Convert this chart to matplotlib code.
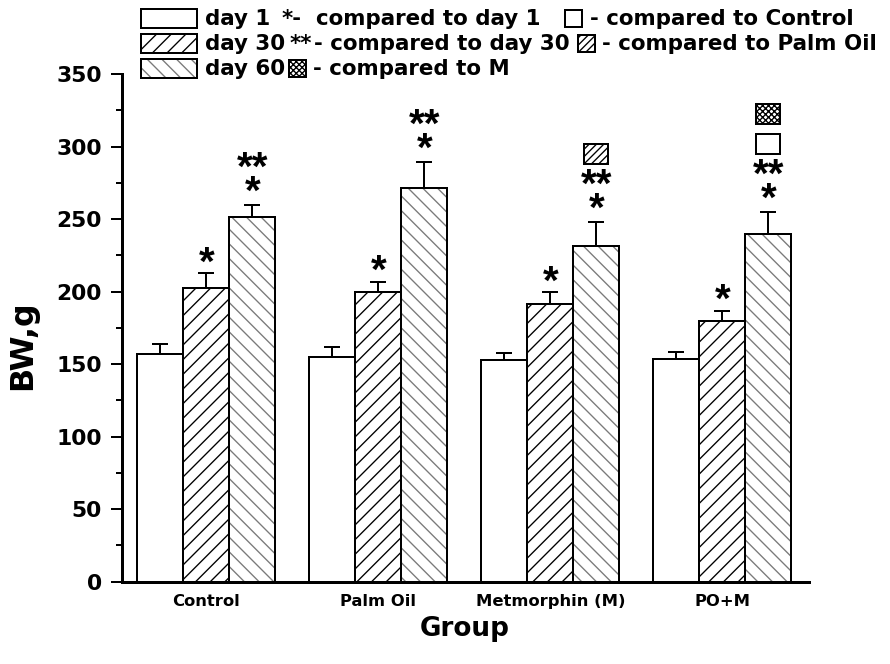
import matplotlib
matplotlib.use('Agg')
import matplotlib.pyplot as plt
from matplotlib.patches import Rectangle
from matplotlib.ticker import MultipleLocator
import numpy as np

# ---------------- data ----------------
groups = ['Control', 'Palm Oil', 'Metmorphin (M)', 'PO+M']
day1 = [157, 155, 152.5, 153.5]
day1_err = [7, 6.5, 5, 5]
day30 = [202.5, 199.5, 191.5, 179.5]
day30_err = [10, 7, 8, 7]
day60 = [251.5, 271.5, 231.5, 239.5]
day60_err = [8, 18, 16.5, 15.5]
series_labels = ['day 1', 'day 30', 'day 60']
day30_marks = ['*', '*', '*', '*']
day60_marks = [['*', '**'], ['*', '**'], ['*', '**'], ['*', '**']]
day60_boxes = [[], [], ['palm'], ['control', 'm']]
yticks = [0, 50, 100, 150, 200, 250, 300, 350]

DPI = 88
FONT = 'DejaVu Sans'
STAR_FONT = ['Liberation Sans', 'DejaVu Sans']
plt.rcParams['hatch.linewidth'] = 1.1
px = 72.0 / DPI  # points per pixel

fig = plt.figure(figsize=(890 / DPI, 664 / DPI), dpi=DPI)
ax = fig.add_axes([122 / 890, 1 - 581.7 / 664, 687.3 / 890, 507.7 / 664])

x = np.arange(len(groups))
w = 46 / 172.0
lw = 2 * px
GRAY = '#7a7a7a'

box_hatch = {'palm': '////', 'm': 'xxxxx', 'control': None}

# day 1
ax.bar(x - w, day1, w, color='white', edgecolor='black', linewidth=lw, zorder=2)
# day 30
ax.bar(x, day30, w, color='white', edgecolor='black', hatch='//', linewidth=lw, zorder=2)
# day 60 : gray hatch, black outline
ax.bar(x + w, day60, w, color='white', edgecolor=GRAY, hatch='\\\\', linewidth=0, zorder=2)
ax.bar(x + w, day60, w, fill=False, edgecolor='black', linewidth=lw, zorder=3)

for xs, vals, errs in [(x - w, day1, day1_err), (x, day30, day30_err), (x + w, day60, day60_err)]:
    ax.errorbar(xs, vals, yerr=[np.zeros(len(vals)), errs], fmt='none', ecolor='black',
                elinewidth=lw, capsize=8.3 * px, capthick=lw, zorder=1)

# significance stars and marker boxes
sq_w = 24 / 172.0
sq_h = 20 / 1.4505
for i in range(len(groups)):
    top30 = day30[i] + day30_err[i]
    ax.annotate(day30_marks[i], (x[i], top30), xytext=(0, -1 * px), textcoords='offset points',
                ha='center', va='baseline', fontsize=33, fontweight='bold', family=STAR_FONT)
    top60 = day60[i] + day60_err[i]
    stack = '\n'.join(reversed(day60_marks[i]))
    ax.annotate(stack, (x[i] + w, top60), xytext=(0, 1 * px),
                textcoords='offset points', ha='center', va='baseline', multialignment='center',
                linespacing=0.534, fontsize=33, fontweight='bold', family=STAR_FONT)
    for k, b in enumerate(day60_boxes[i]):
        cy = top60 + (67.5 + 30 * k) / 1.4505
        r = Rectangle((x[i] + w - sq_w / 2, cy - sq_h / 2), sq_w, sq_h, facecolor='white',
                      edgecolor='black', hatch=box_hatch[b], linewidth=lw, zorder=4, clip_on=False)
        ax.add_patch(r)

ax.set_xlim(-0.49, 3.506)
ax.set_ylim(0, 350)
ax.set_yticks(yticks)
ax.yaxis.set_minor_locator(MultipleLocator(25))
ax.set_xticks(x)
ax.set_xticklabels(groups, fontsize=13.4, fontweight='bold', family=FONT)
for lab in ax.get_yticklabels():
    lab.set_fontsize(17.8)
    lab.set_fontweight('bold')
    lab.set_family(FONT)
ax.tick_params(axis='x', length=0, pad=10)
ax.tick_params(axis='y', which='major', length=11 * px, width=2 * px, pad=9 * px, direction='out')
ax.tick_params(axis='y', which='minor', length=6 * px, width=2 * px, direction='out')
for s in ['top', 'right']:
    ax.spines[s].set_visible(False)
for s in ['left', 'bottom']:
    ax.spines[s].set_linewidth(3 * px)
    ax.spines[s].set_zorder(5)

fig.text(23 / 890, 1 - 345 / 664, 'BW,g', rotation=90, ha='center', va='center',
         fontsize=26, fontweight='bold', family=FONT)
fig.text(465 / 890, 1 - 629 / 664, 'Group', ha='center', va='center',
         fontsize=21.5, fontweight='bold', family=FONT)

# ---------------- legend (overlay in pixel coords) ----------------
lax = fig.add_axes([0, 0, 1, 1], zorder=10)
lax.set_xlim(0, 890)
lax.set_ylim(664, 0)
lax.axis('off')
lax.patch.set_alpha(0)

LFS = 17.5
rows = [18, 43, 68]
handles = [dict(hatch=None, ec='black'), dict(hatch='//', ec='black'), dict(hatch='\\\\', ec=GRAY)]
for r, hd, lab in zip(rows, handles, series_labels):
    if hd['hatch']:
        lax.add_patch(Rectangle((141, r - 9.5), 56, 19, facecolor='white', edgecolor=hd['ec'],
                                hatch=hd['hatch'], linewidth=0))
    lax.add_patch(Rectangle((141, r - 9.5), 56, 19, fill=False, edgecolor='black', linewidth=lw))
    lax.text(205, r + 7, lab, ha='left', va='baseline', fontsize=LFS, fontweight='bold', family=FONT)


def small_box(x0, yc, hatch, size=17):
    lax.add_patch(Rectangle((x0, yc - size / 2), size, size, facecolor='white', edgecolor='black',
                            hatch=hatch, linewidth=lw))


def ltext(x0, r, s):
    lax.text(x0, r + 7, s, ha='left', va='baseline', fontsize=LFS, fontweight='bold', family=FONT)


ltext(282, rows[0], '*-')
ltext(316, rows[0], 'compared to day 1')
small_box(565, rows[0], None)
ltext(590, rows[0], '- compared to Control')

ltext(290, rows[1], '**')
ltext(314, rows[1], '- compared to day 30')
small_box(578, rows[1], '////')
ltext(602, rows[1], '- compared to Palm Oil')

small_box(289, rows[2], 'xxxxx')
ltext(313, rows[2], '- compared to M')

fig.savefig('out.png', dpi=DPI)
